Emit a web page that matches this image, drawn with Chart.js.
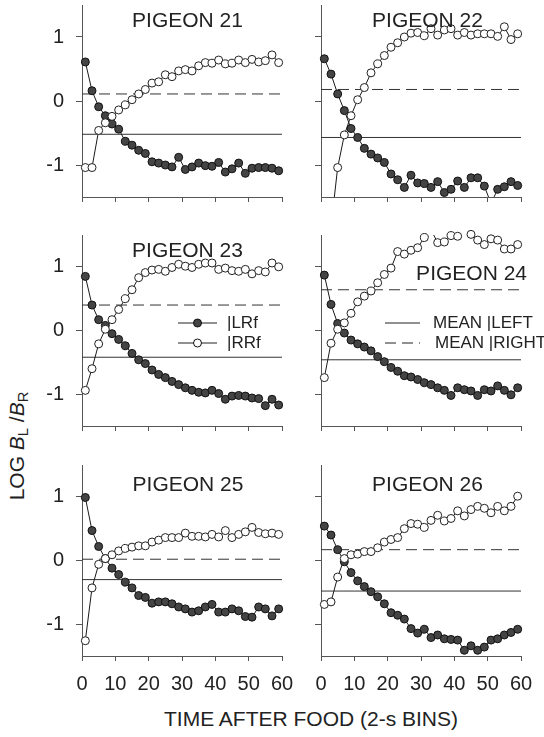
<!DOCTYPE html>
<html>
<head>
<meta charset="utf-8">
<script src="https://cdn.jsdelivr.net/npm/chart.js@4"></script>
<style>
  body { margin: 0; background: #fff; }
  #wrap { position: relative; width: 544px; height: 737px; overflow: hidden;
          font-family: "Liberation Sans", Arial, sans-serif; color: #222; }
  canvas { position: absolute; }
  .xtitle { position: absolute; left: 164px; top: 708px; font-size: 21px; line-height: 21px; white-space: nowrap; }
  .ytitle { position: absolute; left: 16px; top: 446px; font-size: 21px; line-height: 21px; white-space: nowrap;
            transform: translate(-50%, -50%) rotate(-90deg); }
  .ytitle sub { font-size: 0.7em; vertical-align: -0.3em; line-height: 0; }
</style>
</head>
<body>
<div id="wrap">
  <div class="ytitle">LOG <i>B</i><sub>L</sub> /<i>B</i><sub>R</sub></div>
  <div class="xtitle">TIME AFTER FOOD (2-s BINS)</div>
</div>
<script>
// 2-s bins after food
const bins = [1, 3, 5, 7, 9, 11, 13, 15, 17, 19, 21, 23, 25, 27, 29,
              31, 33, 35, 37, 39, 41, 43, 45, 47, 49, 51, 53, 55, 57, 59];
const xTicks = [0, 10, 20, 30, 40, 50, 60];
const yTicks = [-1, 0, 1];

const titles = ['PIGEON 21', 'PIGEON 22', 'PIGEON 23', 'PIGEON 24', 'PIGEON 25', 'PIGEON 26'];

// log BL/BR after a left-key reinforcer (filled) and right-key reinforcer (open)
const p21L = [0.61, 0.16, -0.09, -0.23, -0.36, -0.44, -0.63, -0.69, -0.77, -0.82, -0.95, -0.97, -1.00, -1.03, -0.88,
              -1.07, -1.03, -0.97, -1.01, -1.02, -0.96, -1.11, -1.06, -0.97, -1.13, -1.05, -1.04, -1.04, -1.05, -1.09];
const p21R = [-1.04, -1.04, -0.46, -0.34, -0.24, -0.14, -0.06, 0.02, 0.11, 0.18, 0.28, 0.30, 0.41, 0.38, 0.47,
              0.49, 0.47, 0.55, 0.60, 0.59, 0.64, 0.58, 0.59, 0.64, 0.60, 0.65, 0.61, 0.63, 0.72, 0.60];
const p22L = [0.66, 0.42, 0.11, -0.15, -0.43, -0.57, -0.74, -0.83, -0.89, -0.96, -1.14, -1.23, -1.35, -1.16, -1.28,
              -1.29, -1.35, -1.26, -1.43, -1.38, -1.25, -1.35, -1.20, -1.20, -1.33, -1.60, -1.38, -1.34, -1.26, -1.32];
const p22R = [-2.30, -1.96, -1.04, -0.53, -0.23, 0.02, 0.21, 0.44, 0.58, 0.71, 0.84, 0.91, 1.00, 1.06, 1.07,
              1.02, 1.13, 1.03, 1.11, 1.13, 1.03, 1.07, 1.03, 1.05, 1.05, 1.05, 1.01, 1.16, 0.96, 1.05];
const p23L = [0.85, 0.40, 0.17, 0.08, -0.05, -0.14, -0.24, -0.36, -0.46, -0.52, -0.62, -0.69, -0.74, -0.80, -0.85,
              -0.90, -0.94, -0.97, -0.98, -0.94, -0.99, -1.08, -1.03, -1.02, -1.03, -1.06, -1.07, -1.18, -1.08, -1.17];
const p23R = [-0.94, -0.60, -0.21, 0.02, 0.17, 0.33, 0.50, 0.64, 0.83, 0.91, 0.95, 0.96, 0.93, 0.99, 1.04,
              1.01, 0.99, 1.04, 1.06, 1.06, 0.96, 0.98, 0.94, 0.93, 0.96, 0.89, 0.94, 0.92, 1.06, 1.00];
const p24L = [0.87, 0.41, 0.11, -0.04, -0.15, -0.21, -0.26, -0.32, -0.41, -0.49, -0.58, -0.64, -0.71, -0.73, -0.77,
              -0.82, -0.85, -0.90, -0.94, -1.02, -0.90, -0.93, -0.95, -1.02, -0.93, -0.95, -0.87, -0.94, -1.01, -0.90];
const p24R = [-0.74, -0.20, 0.02, 0.12, 0.27, 0.45, 0.54, 0.62, 0.75, 0.88, 0.98, 1.24, 1.20, 1.26, 1.30,
              1.46, 1.58, 1.38, 1.39, 1.49, 1.48, 1.56, 1.51, 1.42, 1.35, 1.44, 1.42, 1.28, 1.28, 1.35];
const p25L = [0.99, 0.47, 0.22, 0.03, -0.12, -0.22, -0.34, -0.43, -0.55, -0.58, -0.67, -0.65, -0.65, -0.68, -0.73,
              -0.76, -0.81, -0.79, -0.73, -0.69, -0.81, -0.81, -0.76, -0.79, -0.88, -0.89, -0.73, -0.76, -0.87, -0.76];
const p25R = [-1.26, -0.43, -0.06, 0.03, 0.09, 0.15, 0.19, 0.21, 0.23, 0.23, 0.29, 0.32, 0.36, 0.36, 0.36,
              0.43, 0.38, 0.38, 0.37, 0.41, 0.37, 0.47, 0.36, 0.41, 0.45, 0.52, 0.44, 0.42, 0.43, 0.41];
const p26L = [0.54, 0.40, 0.17, -0.02, -0.19, -0.32, -0.41, -0.49, -0.57, -0.68, -0.82, -0.86, -0.92, -1.07, -1.14,
              -1.08, -1.21, -1.17, -1.23, -1.24, -1.25, -1.41, -1.34, -1.41, -1.36, -1.25, -1.23, -1.17, -1.13, -1.08];
const p26R = [-0.69, -0.65, -0.26, 0.03, 0.09, 0.10, 0.14, 0.14, 0.20, 0.29, 0.33, 0.36, 0.50, 0.58, 0.57,
              0.52, 0.63, 0.71, 0.62, 0.66, 0.78, 0.70, 0.80, 0.85, 0.82, 0.75, 0.85, 0.78, 0.85, 1.01];

const leftSeries = [p21L, p22L, p23L, p24L, p25L, p26L];
const rightSeries = [p21R, p22R, p23R, p24R, p25R, p26R];
const meanLeft = [-0.52, -0.57, -0.42, -0.46, -0.30, -0.48];
const meanRight = [0.11, 0.18, 0.40, 0.64, 0.02, 0.17];

const FONT = '"Liberation Sans", Arial, sans-serif';
const INK = '#222';
const AXIS = '#555';

// panel placement on the page
const cols = [{ left: 0, width: 300, yw: 82, padR: 18 }, { left: 300, width: 244, yw: 21, padR: 23 }];
const rows = [{ top: 0, height: 230, padT: 5, xh: 33 }, { top: 230, height: 230, padT: 5, xh: 34 },
              { top: 460, height: 277, padT: 5, xh: 81 }];

// title position relative to chart area
const titlePos = [
  { x: 105.5, y: 22, align: 'center' }, { x: 106.5, y: 22, align: 'center' },
  { x: 105.5, y: 22, align: 'center' }, { x: 206, y: 45, align: 'right' },
  { x: 106, y: 26, align: 'center' }, { x: 106.5, y: 26, align: 'center' }
];

const legends = {
  2: [
    { text: '|LRf', x0: 96, x1: 135, tx: 145, y: 88, marker: 'filled' },
    { text: '|RRf', x0: 96, x1: 135, tx: 145, y: 108, marker: 'open' }
  ],
  3: [
    { text: 'MEAN |LEFT', x0: 64, x1: 99, tx: 112, y: 88 },
    { text: 'MEAN |RIGHT', x0: 64, x1: 99, tx: 114, y: 108, dash: [11, 6] }
  ]
};

const panelText = {
  id: 'panelText',
  afterDatasetsDraw(chart, args, opts) {
    const { ctx, chartArea: a } = chart;
    ctx.save();
    ctx.fillStyle = INK;
    ctx.font = '21px ' + FONT;
    ctx.textAlign = opts.pos.align;
    ctx.textBaseline = 'alphabetic';
    ctx.fillText(opts.title, a.left + opts.pos.x, a.top + opts.pos.y);

    ctx.font = '17px ' + FONT;
    ctx.textAlign = 'left';
    ctx.textBaseline = 'middle';
    (opts.legend || []).forEach(it => {
      const y = a.top + it.y;
      ctx.strokeStyle = INK;
      ctx.lineWidth = 1;
      ctx.setLineDash(it.dash || []);
      ctx.beginPath();
      ctx.moveTo(a.left + it.x0, y);
      ctx.lineTo(a.left + it.x1, y);
      ctx.stroke();
      ctx.setLineDash([]);
      if (it.marker) {
        ctx.beginPath();
        ctx.arc(a.left + (it.x0 + it.x1) / 2, y, 4, 0, Math.PI * 2);
        ctx.fillStyle = it.marker === 'filled' ? '#444' : '#fff';
        ctx.fill();
        ctx.strokeStyle = '#111';
        ctx.stroke();
      }
      ctx.fillStyle = INK;
      ctx.fillText(it.text, a.left + it.tx, y);
    });
    ctx.restore();
  }
};

const wrap = document.getElementById('wrap');
const pts = arr => bins.map((x, k) => ({ x: x, y: arr[k] }));
const hideOut = ctx => (ctx.raw && Math.abs(ctx.raw.y) > 1.52 ? 0 : 4);

function makePanel(i) {
  const col = cols[i % 2];
  const row = rows[Math.floor(i / 2)];
  const bottomRow = Math.floor(i / 2) === rows.length - 1;
  const leftCol = i % 2 === 0;

  const canvas = document.createElement('canvas');
  canvas.width = col.width;
  canvas.height = row.height;
  canvas.style.left = col.left + 'px';
  canvas.style.top = row.top + 'px';
  wrap.appendChild(canvas);

  new Chart(canvas, {
    type: 'line',
    data: {
      datasets: [
        { data: [{ x: 0, y: meanLeft[i] }, { x: 60, y: meanLeft[i] }], borderColor: '#333', borderWidth: 1, pointRadius: 0, order: 6 },
        { data: [{ x: 0, y: meanRight[i] }, { x: 60, y: meanRight[i] }], borderColor: '#333', borderWidth: 1, borderDash: [11, 6], pointRadius: 0, order: 6 },
        { data: pts(leftSeries[i]), borderColor: '#1a1a1a', borderWidth: 1, pointRadius: 0, order: 5 },
        { data: pts(rightSeries[i]), borderColor: '#1a1a1a', borderWidth: 1, pointRadius: 0, order: 5 },
        { data: pts(leftSeries[i]), showLine: false, pointRadius: hideOut, pointBackgroundColor: '#444',
          pointBorderColor: '#111', pointBorderWidth: 1, clip: false, order: 2 },
        { data: pts(rightSeries[i]), showLine: false, pointRadius: hideOut, pointBackgroundColor: '#fff',
          pointBorderColor: '#222', pointBorderWidth: 1, clip: false, order: 1 }
      ]
    },
    options: {
      responsive: false,
      animation: false,
      events: [],
      layout: { padding: { top: row.padT, right: col.padR, bottom: 0, left: 0 } },
      plugins: {
        legend: { display: false },
        tooltip: { enabled: false },
        panelText: { title: titles[i], pos: titlePos[i], legend: legends[i] }
      },
      scales: {
        x: {
          type: 'linear', min: 0, max: 60,
          afterBuildTicks: s => { s.ticks = xTicks.map(v => ({ value: v })); },
          afterFit: s => { s.height = row.xh; s.paddingLeft = 0; s.paddingRight = 0; },
          grid: { drawOnChartArea: false, drawTicks: true, tickLength: 5, color: AXIS },
          border: { color: AXIS, width: 1 },
          ticks: { display: bottomRow, autoSkip: false, maxRotation: 0, padding: 11, color: INK,
                   font: { family: FONT, size: 20 } }
        },
        y: {
          min: -1.5, max: 1.5,
          afterBuildTicks: s => { s.ticks = yTicks.map(v => ({ value: v })); },
          afterFit: s => { s.width = col.yw; s.paddingTop = 0; s.paddingBottom = 0; },
          grid: { drawOnChartArea: false, drawTicks: true, tickLength: 6, color: AXIS },
          border: { color: AXIS, width: 1 },
          ticks: { display: leftCol, padding: 12, color: INK, font: { family: FONT, size: 20 } }
        }
      }
    },
    plugins: [panelText]
  });
}

for (let i = 0; i < titles.length; i++) makePanel(i);
</script>
</body>
</html>
